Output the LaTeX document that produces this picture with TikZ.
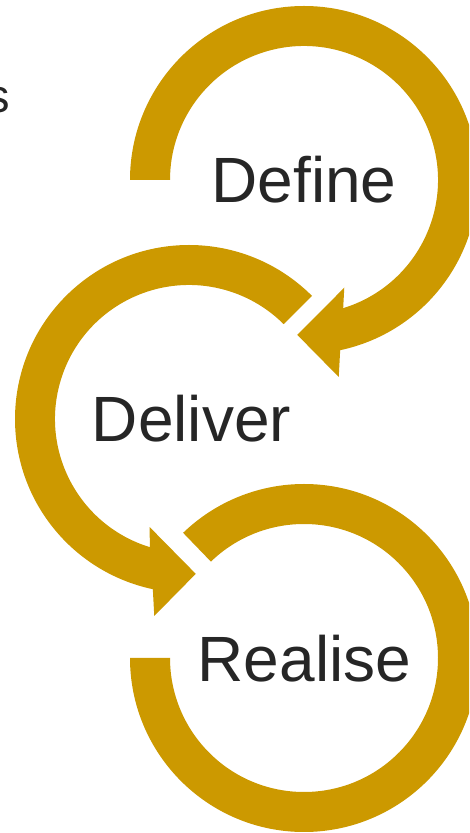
\documentclass[tikz,border=0pt]{standalone}
\usepackage{fontspec}
\setmainfont{Liberation Sans}
\usetikzlibrary{calc}
\definecolor{ringgold}{HTML}{CC9900}
\definecolor{labelgray}{HTML}{262626}
\tikzset{
  ring/.style={fill=ringgold, draw=none},
  steplabel/.style={text=labelgray, inner sep=0pt, anchor=base,
    font=\fontsize{64}{70}\selectfont},
}
\begin{document}
\begin{tikzpicture}[x=1pt, y=1pt]
  \useasboundingbox (0,0) rectangle (469,833);
  \clip (0,0) rectangle (469,833);

  % ring centres
  \coordinate (cDefine)  at (304,653);
  \coordinate (cDeliver) at (189,414);
  \coordinate (cRealise) at (304,175);

  % Define: open at the left, runs clockwise, arrow head at the bottom
  \fill[ring] ($(cDefine)+(180:174)$) arc[start angle=180, end angle=-78, radius=174]
    -- ($(cDefine)+(-80:200)$) -- ($(cDefine)+(-92.5:155)$)
    -- ($(cDefine)+(-69.5:115)$) -- ($(cDefine)+(-73:134)$)
    arc[start angle=-73, end angle=180, radius=134] -- cycle;

  % Deliver: starts at the upper right, runs anticlockwise, arrow head at the bottom
  \fill[ring] ($(cDeliver)+(45:174)$) arc[start angle=45, end angle=258, radius=174]
    -- ($(cDeliver)+(260:200)$) -- ($(cDeliver)+(272.5:155)$)
    -- ($(cDeliver)+(250:115)$) -- ($(cDeliver)+(253:134)$)
    arc[start angle=253, end angle=45, radius=134] -- cycle;

  % Realise: nearly closed ring
  \fill[ring] ($(cRealise)+(180:174)$) arc[start angle=180, end angle=494, radius=174]
    -- ($(cRealise)+(494:134)$)
    arc[start angle=494, end angle=180, radius=134] -- cycle;

  % labels
  \node[steplabel] (define)  at (304,630)   {Define};
  \node[steplabel] (deliver) at (191.5,391) {Deliver};
  \node[steplabel] (realise) at (304.5,151) {Realise};

  % tail of a word running in from the left edge
  \node[text=labelgray, inner sep=0pt, anchor=base east,
        font=\fontsize{47}{52}\selectfont] (tail) at (10,720) {s};
\end{tikzpicture}
\end{document}
